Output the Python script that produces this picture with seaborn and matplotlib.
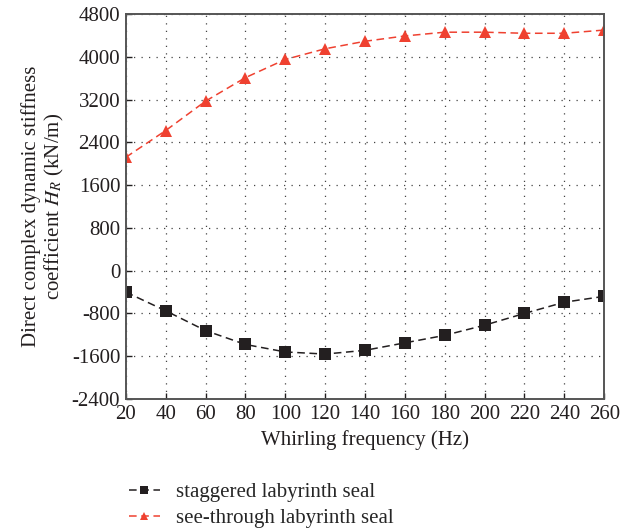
import matplotlib
matplotlib.use("Agg")
import matplotlib.pyplot as plt
import seaborn as sns
import pandas as pd

freq = [20, 40, 60, 80, 100, 120, 140, 160, 180, 200, 220, 240, 260]
staggered = [-400, -750, -1120, -1380, -1520, -1560, -1490, -1350, -1210, -1020, -800, -590, -480]
see_through = [2120, 2620, 3170, 3610, 3950, 4150, 4290, 4390, 4460, 4460, 4440, 4440, 4500]
labels = ["staggered labyrinth seal", "see-through labyrinth seal"]
x_ticks = list(range(20, 261, 20))
y_ticks = list(range(-2400, 4801, 800))

sns.set_theme(style="white")
plt.rcParams['font.family'] = ['Liberation Serif', 'DejaVu Serif']
plt.rcParams['mathtext.fontset'] = 'stix'
plt.rcParams['axes.unicode_minus'] = False

df = pd.DataFrame({
    "freq": freq * 2,
    "value": staggered + see_through,
    "seal": [labels[0]] * len(freq) + [labels[1]] * len(freq),
})

fig = plt.figure(figsize=(6.32, 5.31), dpi=100)
ax = fig.add_axes([0.199, 0.2486, 0.757, 0.725])

colors = {labels[0]: "#231f20", labels[1]: "#ef4130"}
markers = {labels[0]: "s", labels[1]: "^"}
for lab in labels:
    sub = df[df["seal"] == lab]
    sns.lineplot(data=sub, x="freq", y="value", ax=ax, color=colors[lab],
                 marker=markers[lab], markersize=8.5, markeredgewidth=0,
                 linestyle=(0, (5, 3)), linewidth=1.1, label=lab, legend=False)

ax.set_xlim(20, 260)
ax.set_ylim(-2400, 4800)
ax.set_xticks(x_ticks)
ax.set_yticks(y_ticks)
ax.tick_params(axis='both', labelsize=15, colors="#231f20", direction='in',
               length=4, width=1, bottom=True, left=True, pad=4)
ax.grid(True, linestyle=(0, (1, 5)), color="#444444", linewidth=0.9)
for s in ax.spines.values():
    s.set_color("#555555")
    s.set_linewidth(1.4)
ax.set_xlabel("Whirling frequency (Hz)", fontsize=15, color="#231f20", labelpad=5)
ax.set_ylabel("Direct complex dynamic stiffness\ncoefficient $H_R$ (kN/m)",
              fontsize=15, color="#231f20", labelpad=4, linespacing=1.1)

handles, labs = ax.get_legend_handles_labels()
fig.legend(handles, labs, loc="center left", bbox_to_anchor=(0.174, 0.048),
           frameon=False, fontsize=15, handlelength=1.5, labelspacing=0.3,
           handletextpad=0.75, markerscale=0.75)

fig.savefig("out.png", dpi=100)
